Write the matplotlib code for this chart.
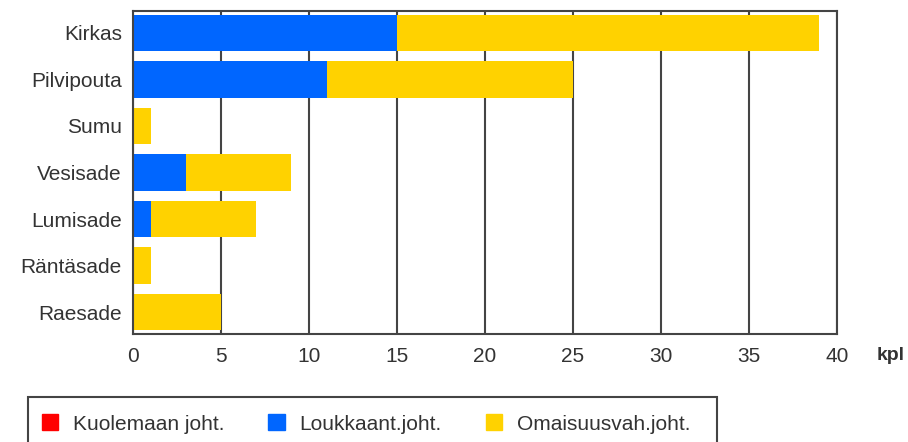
import matplotlib
matplotlib.use('Agg')
import matplotlib.pyplot as plt
from matplotlib.patches import Patch, Rectangle

plt.rcParams['font.family'] = ['Liberation Sans', 'DejaVu Sans']

luokat = ['Kirkas', 'Pilvipouta', 'Sumu', 'Vesisade', 'Lumisade', 'Räntäsade', 'Raesade']
kuolemaan = [0, 0, 0, 0, 0, 0, 0]
loukkaant = [15, 11, 0, 3, 1, 0, 0]
omaisuus = [24, 14, 1, 6, 6, 1, 5]

punainen = '#ff0000'
sininen = '#0066ff'
keltainen = '#ffd200'
viiva = '#444444'
teksti = '#333333'

fig = plt.figure(figsize=(9.08, 4.42), dpi=100)
ax = fig.add_axes([133 / 908, 1 - 334 / 442, 704 / 908, 323 / 442])

y = list(range(len(luokat)))
vasen2 = [a + b for a, b in zip(kuolemaan, loukkaant)]
ax.barh(y, kuolemaan, height=0.78, color=punainen, zorder=2)
ax.barh(y, loukkaant, left=kuolemaan, height=0.78, color=sininen, zorder=2)
ax.barh(y, omaisuus, left=vasen2, height=0.78, color=keltainen, zorder=2)

ax.set_xlim(0, 40)
ax.set_ylim(len(luokat) - 0.53, -0.47)
ax.set_xticks(range(0, 41, 5))
ax.set_yticks(y)
ax.set_yticklabels(luokat)
ax.xaxis.grid(True, color=viiva, linewidth=1.5, zorder=1)
ax.set_axisbelow(True)
for s in ax.spines.values():
    s.set_color(viiva)
    s.set_linewidth(1.5)
ax.tick_params(axis='both', length=0, labelsize=15, labelcolor=teksti)
ax.tick_params(axis='x', pad=9)
ax.tick_params(axis='y', pad=8)

fig.text(877 / 908, 1 - 356 / 442, 'kpl', fontsize=14, fontweight='bold',
         color=teksti, va='center', ha='left')

# legendin kehys
fig.patches.append(Rectangle((28 / 908, -0.05), 689 / 908, 1 - 397 / 442 + 0.05,
                             transform=fig.transFigure, fill=False,
                             edgecolor=viiva, linewidth=1.5))
kahvat = [Patch(color=punainen, label='Kuolemaan joht.'),
          Patch(color=sininen, label='Loukkaant.joht.'),
          Patch(color=keltainen, label='Omaisuusvah.joht.')]
fig.legend(handles=kahvat, ncol=3, frameon=False, loc='center left',
           bbox_to_anchor=(23 / 908, 1 - 424 / 442), fontsize=15,
           handlelength=0.8, handleheight=0.8, handletextpad=0.7,
           columnspacing=2.1, labelcolor=teksti)

fig.savefig('out.png', dpi=100)
